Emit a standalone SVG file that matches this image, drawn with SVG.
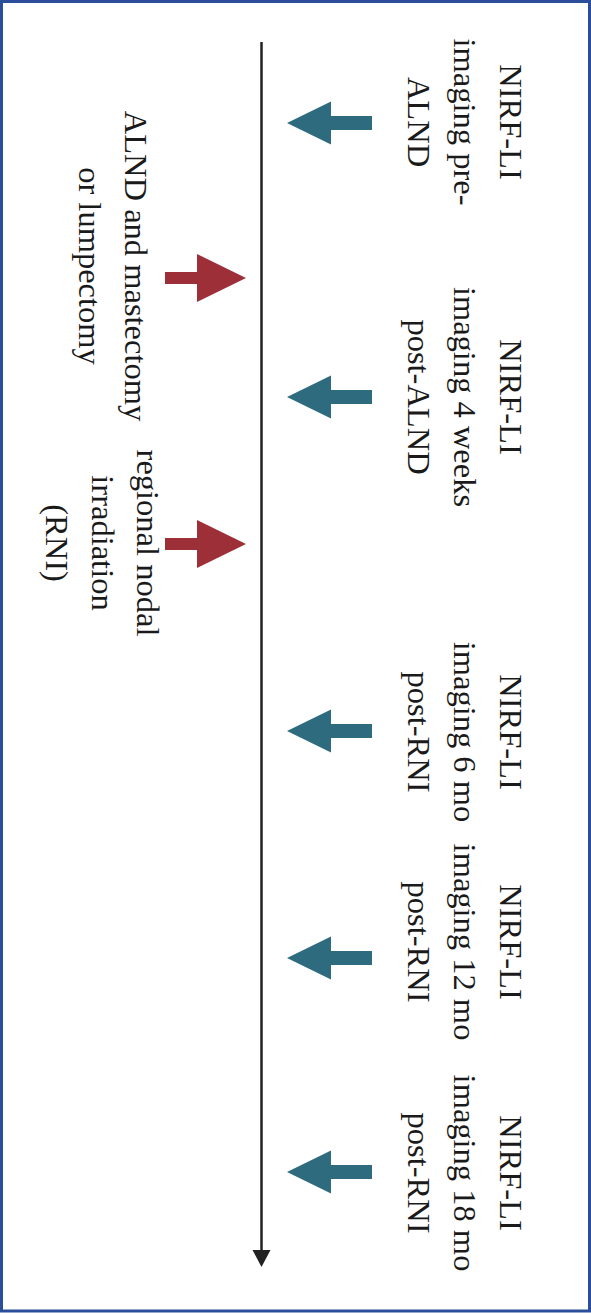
<svg xmlns="http://www.w3.org/2000/svg" width="591" height="1313" viewBox="0 0 591 1313">
  <style>
    .lbl { font-family: "Liberation Serif", "Times New Roman", serif; font-size: 32.5px; fill: #1a1a1a; text-anchor: middle; }
    .teal { fill: #2E6B7E; }
    .red { fill: #9C2F38; }
  </style>
  <defs>
    <polygon id="tealArrow" points="0,0 44,-21.5 44,-7 85,-7 85,7 44,7 44,21.5"/>
    <polygon id="redArrow" points="0,-6 32,-6 32,-24 81,0 32,24 32,6 0,6"/>
  </defs>
  <rect x="1.5" y="1.5" width="588" height="1309.5" fill="#ffffff" stroke="#2B4E9A" stroke-width="3"/>

  <g id="connectors">
    <line x1="261.5" y1="42" x2="261.5" y2="1252" stroke="#222222" stroke-width="2.5"/>
    <polygon points="252.5,1250 270.5,1250 261.5,1267" fill="#222222"/>
  </g>

  <g id="node-pre-alnd">
    <use href="#tealArrow" class="teal" x="287" y="123"/>
    <text class="lbl" transform="translate(500,122) rotate(90)"><tspan x="0" y="0">NIRF-LI</tspan><tspan x="0" dy="46">imaging pre-</tspan><tspan x="0" dy="46">ALND</tspan></text>
  </g>

  <g id="node-surgery">
    <use href="#redArrow" class="red" x="165" y="278"/>
    <text class="lbl" transform="translate(125,266) rotate(90)"><tspan x="0" y="0">ALND and mastectomy</tspan><tspan x="0" dy="46">or lumpectomy</tspan></text>
  </g>

  <g id="node-4weeks">
    <use href="#tealArrow" class="teal" x="287" y="397"/>
    <text class="lbl" transform="translate(500,397) rotate(90)"><tspan x="0" y="0">NIRF-LI</tspan><tspan x="0" dy="46">imaging 4 weeks</tspan><tspan x="0" dy="46">post-ALND</tspan></text>
  </g>

  <g id="node-rni">
    <use href="#redArrow" class="red" x="165" y="544"/>
    <text class="lbl" transform="translate(137,543) rotate(90)"><tspan x="0" y="0">regional nodal</tspan><tspan x="0" dy="45.5">irradiation</tspan><tspan x="0" dy="45.5">(RNI)</tspan></text>
  </g>

  <g id="node-6mo">
    <use href="#tealArrow" class="teal" x="287" y="731"/>
    <text class="lbl" transform="translate(500,732) rotate(90)"><tspan x="0" y="0">NIRF-LI</tspan><tspan x="0" dy="46">imaging 6 mo</tspan><tspan x="0" dy="46">post-RNI</tspan></text>
  </g>

  <g id="node-12mo">
    <use href="#tealArrow" class="teal" x="287" y="958"/>
    <text class="lbl" transform="translate(500,942) rotate(90)"><tspan x="0" y="0">NIRF-LI</tspan><tspan x="0" dy="46">imaging 12 mo</tspan><tspan x="0" dy="46">post-RNI</tspan></text>
  </g>

  <g id="node-18mo">
    <use href="#tealArrow" class="teal" x="287" y="1172"/>
    <text class="lbl" transform="translate(500,1173) rotate(90)"><tspan x="0" y="0">NIRF-LI</tspan><tspan x="0" dy="46">imaging 18 mo</tspan><tspan x="0" dy="46">post-RNI</tspan></text>
  </g>
</svg>
